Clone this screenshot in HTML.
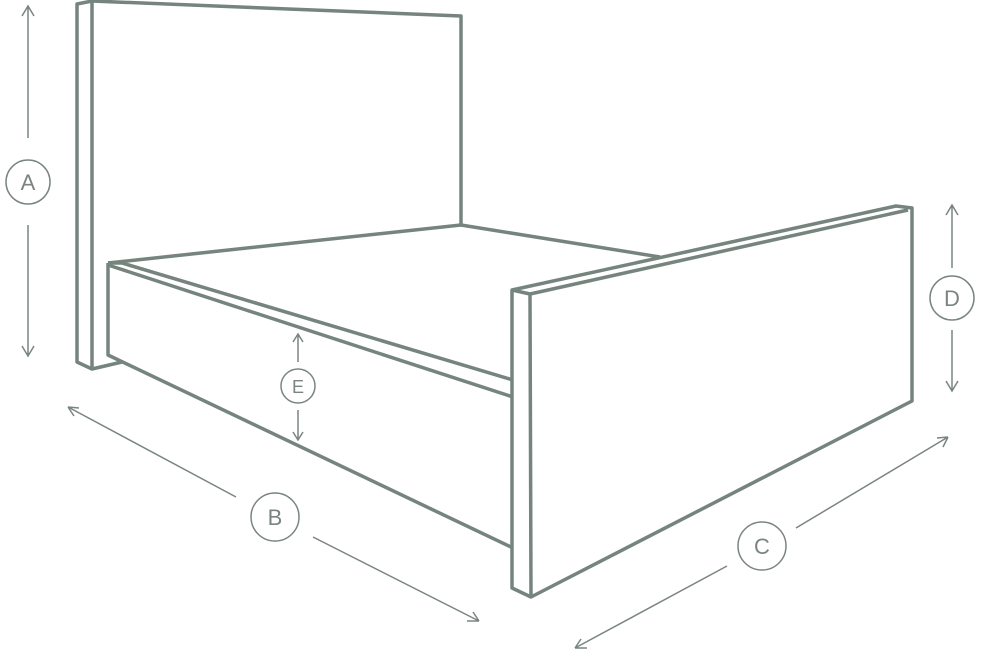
<!DOCTYPE html>
<html><head><style>html,body{margin:0;padding:0;background:#fff}svg{display:block}</style></head><body>
<svg width="985" height="657" viewBox="0 0 985 657" xmlns="http://www.w3.org/2000/svg">
<g fill="none" stroke="#76847e" stroke-width="3.5" stroke-linejoin="round">
<path d="M92,369 L77,362 L77,4 L92,1 L461,16 L461,225"/>
<path d="M92,1 L92,369 L122,362"/>
<path d="M108,263 L461,225 L660,257"/>
<path d="M108,263 L108,355 L513,548"/>
<path d="M108,263 L122,263 L513,380"/>
<path d="M108,265 L513,397"/>
<path d="M512,290 L896,206 L912,208 L912,401 L531,597 L512,588 Z" fill="#fff"/>
<path d="M512,290 L530,294 L531,597"/>
<path d="M530,294 L908,210"/>
</g>
<g fill="none" stroke="#7a8580" stroke-width="1.5">
<path d="M28,6 L28,138 M22,16 L28,6 L34,16"/>
<circle cx="28" cy="182" r="22"/>
<path d="M28,225 L28,356 M22,346 L28,356 L34,346"/>
<path d="M952,205 L952,268 M946,215 L952,205 L958,215"/>
<circle cx="952" cy="298" r="22"/>
<path d="M952,330 L952,391 M946,381 L952,391 L958,381"/>
<path d="M298,334 L298,362 M293,342 L298,334 L303,342"/>
<circle cx="298" cy="386" r="17"/>
<path d="M298,410 L298,440 M293,432 L298,440 L303,432"/>
<path d="M68,407 L236,497 M68,407 L79,408 M68,407 L74,416"/>
<circle cx="275" cy="517" r="24"/>
<path d="M313,537 L479,621 M479,621 L467,621 M479,621 L473,612"/>
<path d="M948,437 L796,528 M948,437 L937,438 M948,437 L943,447"/>
<circle cx="762" cy="546" r="24"/>
<path d="M727,566 L575,648 M575,648 L581,639 M575,648 L587,648"/>
</g>
<g fill="#7a8580" font-family="Liberation Sans, sans-serif" font-size="22" text-anchor="middle">
<text x="28" y="190">A</text>
<text x="952" y="306">D</text>
<text x="275" y="525">B</text>
<text x="762" y="554">C</text>
<text x="298" y="393" font-size="18">E</text>
</g>
</svg>
</body></html>
